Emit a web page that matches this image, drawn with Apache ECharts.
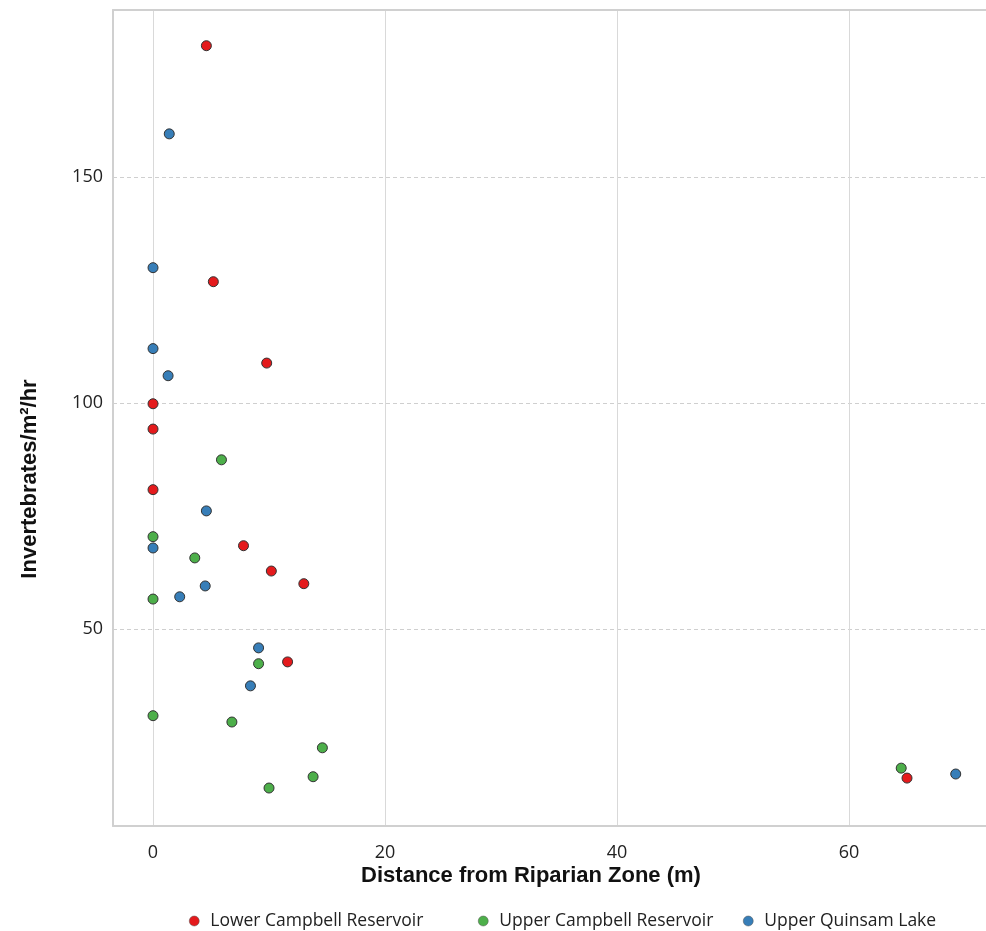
<!DOCTYPE html>
<html>
<head>
<meta charset="utf-8">
<script src="https://cdn.jsdelivr.net/npm/echarts@6/dist/echarts.min.js"></script>
<style>html,body{margin:0;padding:0;background:#fff}#c{width:986px;height:931px}</style>
</head>
<body>
<div id="c"></div>
<script>
const seriesNames = ['Lower Campbell Reservoir', 'Upper Campbell Reservoir', 'Upper Quinsam Lake'];
const seriesColors = ['#e41a1c', '#4daf4a', '#377eb8'];

const lowerCampbellX = [4.6, 5.2, 9.8, 0, 0, 0, 7.8, 10.2, 13.0, 11.6, 65.0];
const lowerCampbellY = [179.0, 126.8, 108.8, 99.8, 94.2, 80.8, 68.4, 62.8, 60.0, 42.7, 17.0];

const upperCampbellX = [5.9, 0, 3.6, 0, 9.1, 0, 6.8, 14.6, 13.8, 10.0, 64.5];
const upperCampbellY = [87.4, 70.4, 65.7, 56.6, 42.3, 30.8, 29.4, 23.7, 17.3, 14.8, 19.2];

const upperQuinsamX = [1.4, 0, 0, 1.3, 4.6, 0, 4.5, 2.3, 9.1, 8.4, 69.2];
const upperQuinsamY = [159.5, 129.9, 112.0, 106.0, 76.1, 67.9, 59.5, 57.1, 45.8, 37.4, 17.9];

const xTicks = [0, 20, 40, 60];
const yTicks = [50, 100, 150];

const xTitle = 'Distance from Riparian Zone (m)';
const yTitle = 'Invertebrates/m²/hr';

function pairs(xs, ys) { return xs.map((x, i) => [x, ys[i]]); }
const allData = [pairs(lowerCampbellX, lowerCampbellY), pairs(upperCampbellX, upperCampbellY), pairs(upperQuinsamX, upperQuinsamY)];

const chart = echarts.init(document.getElementById('c'), null, {renderer: 'canvas'});
const font = 'Open Sans';
const frameLine = {show: true, onZero: false, lineStyle: {color: '#d0d0d0', width: 2}};
const legendLefts = [184, 473, 738];
chart.setOption({
  animation: false,
  backgroundColor: '#fff',
  grid: {left: 113, top: 10, right: 0, bottom: 105, containLabel: false},
  xAxis: [{
    type: 'value', min: -3.45, max: 71.81, position: 'bottom',
    axisLine: frameLine,
    axisTick: {show: false, customValues: xTicks},
    axisLabel: {customValues: xTicks, fontFamily: font, fontSize: 18, color: '#222', margin: 18},
    splitLine: {show: true, lineStyle: {color: '#d9d9d9', width: 1, type: 'solid'}}
  }, {
    type: 'value', min: -3.45, max: 71.81, position: 'top',
    axisLine: frameLine, axisTick: {show: false}, axisLabel: {show: false}, splitLine: {show: false}
  }],
  yAxis: {
    type: 'value', min: 6.4, max: 186.9,
    axisLine: frameLine,
    axisTick: {show: false, customValues: yTicks},
    axisLabel: {customValues: yTicks, fontFamily: font, fontSize: 18, color: '#222', margin: 10},
    splitLine: {show: true, lineStyle: {color: '#cfcfcf', width: 1, type: [4, 3]}}
  },
  legend: seriesNames.map((n, i) => ({
    left: legendLefts[i], top: 907, itemWidth: 10, itemHeight: 10,
    icon: 'circle',
    itemStyle: {borderWidth: 0.5, borderColor: '#555'},
    textStyle: {fontFamily: font, fontSize: 17.5, color: '#222', padding: [0, 0, 0, 6]},
    data: [n]
  })),
  graphic: [
    {type: 'text', x: 531, y: 876, style: {text: xTitle, font: 'bold 22px "Liberation Sans", Arial', fill: '#111', align: 'center', verticalAlign: 'middle'}},
    {type: 'text', x: 30, y: 479, rotation: Math.PI / 2, style: {text: yTitle, font: 'bold 22px "Liberation Sans", Arial', fill: '#111', align: 'center', verticalAlign: 'middle'}}
  ],
  series: seriesNames.map((n, i) => ({
    name: n, type: 'scatter', data: allData[i], symbol: 'circle', symbolSize: 10,
    itemStyle: {color: seriesColors[i], opacity: 1, borderColor: '#333', borderWidth: 1}
  }))
});
</script>
</body>
</html>
